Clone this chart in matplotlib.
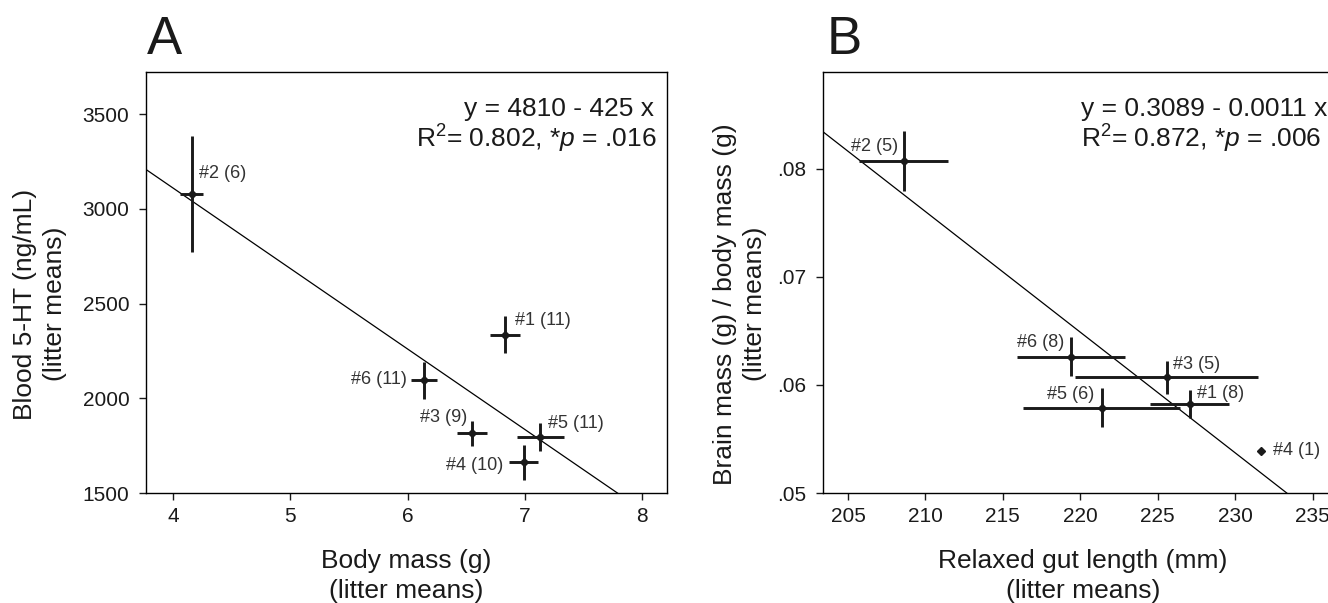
import matplotlib
matplotlib.use('Agg')
import matplotlib.pyplot as plt
import numpy as np

plt.rcParams['font.family'] = ['Liberation Sans', 'DejaVu Sans']
plt.rcParams['mathtext.fontset'] = 'custom'
plt.rcParams['mathtext.rm'] = 'Liberation Sans'
plt.rcParams['mathtext.it'] = 'Liberation Sans:italic'

# litters #1 .. #6
litters = ['#1', '#2', '#3', '#4', '#5', '#6']

# Panel A: body mass vs blood 5-HT
mass = [6.83, 4.16, 6.55, 6.99, 7.13, 6.14]
mass_err = [0.125, 0.10, 0.13, 0.125, 0.20, 0.11]
ht = [2336, 3078, 1816, 1662, 1796, 2094]
ht_err = [96, 304, 66, 91, 76, 97]
n_a = [11, 6, 9, 10, 11, 11]
fit_a = (4810, -425)
eq_a = ['y = 4810 - 425 x', 'R$^2$= 0.802, *$p$ = .016']
xticks_a = [4, 5, 6, 7, 8]
yticks_a = [1500, 2000, 2500, 3000, 3500]
ytick_labels_a = ['1500', '2000', '2500', '3000', '3500']

# Panel B: gut length vs brain/body mass
gut = [227.07, 208.61, 225.57, 231.69, 221.38, 219.40]
gut_err = [2.54, 2.87, 5.9, 0, 5.08, 3.46]
ratio = [0.0582, 0.0807, 0.0607, 0.0539, 0.0579, 0.0626]
ratio_err = [0.0013, 0.0028, 0.0015, 0, 0.0018, 0.0018]
n_b = [8, 5, 5, 1, 6, 8]
fit_b = (0.3104, -0.001116)  # line as drawn in the figure
eq_b = ['y = 0.3089 - 0.0011 x', 'R$^2$= 0.872, *$p$ = .006']
xticks_b = [205, 210, 215, 220, 225, 230, 235]
yticks_b = [0.05, 0.06, 0.07, 0.08]
ytick_labels_b = ['.05', '.06', '.07', '.08']

# label placement (offset points, alignment)
offs_a = [(7, 10, 'left'), (5.4, 15, 'left'), (-3.8, 11, 'right'),
          (-14.6, -2.5, 'right'), (5.3, 9.4, 'left'), (-12.7, 0.5, 'right')]
offs_b = [(5, 8, 'left'), (-4.2, 10.5, 'right'), (4.5, 9.4, 'left'),
          (8.6, 0, 'left'), (-5.1, 9.4, 'right'), (-4.8, 10.3, 'right')]

INK = '#1a1a1a'

fig = plt.figure(figsize=(13.28, 6.03), dpi=100)
ax_a = fig.add_axes([0.1099, 0.1824, 0.3923, 0.6982])
ax_b = fig.add_axes([0.6194, 0.1824, 0.3923, 0.6982])


def draw_panel(ax, x, xe, y, ye, n, offs, fit, eq, eq_pos, xlim, ylim,
               xticks, yticks, ylabels, xlabel, ylabel, ylab_x):
    ax.set_xlim(*xlim)
    ax.set_ylim(*ylim)
    xs = np.array(xlim)
    ax.plot(xs, fit[0] + fit[1] * xs, color='black', lw=0.9, zorder=1)
    ax.errorbar(x, y, xerr=xe, yerr=ye, fmt='D', ms=4.5, color=INK,
                ecolor=INK, elinewidth=2.1, capsize=0, zorder=3)
    for i in range(len(x)):
        dx, dy, ha = offs[i]
        ax.annotate(f'{litters[i]} ({n[i]})', (x[i], y[i]), xytext=(dx, dy),
                    textcoords='offset points', ha=ha, va='center',
                    fontsize=13, color='#333333')
    (x1, x2, ha) = eq_pos
    ax.text(x1, 0.8955, eq[0], transform=ax.transAxes, ha=ha,
            va='baseline', fontsize=19, color=INK)
    ax.text(x2, 0.8195, eq[1], transform=ax.transAxes, ha=ha,
            va='baseline', fontsize=19, color=INK)
    ax.set_xticks(xticks)
    ax.set_yticks(yticks)
    ax.set_yticklabels(ylabels)
    ax.tick_params(direction='out', length=5, width=1, labelsize=15,
                   colors=INK)
    ax.tick_params(axis='y', pad=7)
    ax.tick_params(axis='x', pad=5)
    for s in ax.spines.values():
        s.set_linewidth(1)
    ax.text(0.5, -0.197, xlabel, transform=ax.transAxes, ha='center',
            va='center', fontsize=19, linespacing=1.3, color=INK)
    ax.text(ylab_x, 0.449, ylabel, transform=ax.transAxes, ha='center',
            va='center', rotation=90, fontsize=19, linespacing=1.3,
            multialignment='center', color=INK)


draw_panel(ax_a, mass, mass_err, ht, ht_err, n_a, offs_a, fit_a, eq_a,
           (0.975, 0.981, 'right'),
           (3.77, 8.21), (1500, 3722), xticks_a, yticks_a, ytick_labels_a,
           'Body mass (g)\n(litter means)',
           'Blood 5-HT (ng/mL)\n(litter means)', -0.203)
draw_panel(ax_b, gut, gut_err, ratio, ratio_err, n_b, offs_b, fit_b, eq_b,
           (0.497, 0.497, 'left'),
           (203.36, 237.0), (0.05, 0.08895), xticks_b, yticks_b, ytick_labels_b,
           'Relaxed gut length (mm)\n(litter means)',
           'Brain mass (g) / body mass (g)\n(litter means)', -0.158)

fig.text(147 / 1328, 1 - 54 / 603, 'A', fontsize=38, va='baseline',
         color=INK)
fig.text(827 / 1328, 1 - 54 / 603, 'B', fontsize=38, va='baseline',
         color=INK)

fig.savefig('out.png', dpi=100)
